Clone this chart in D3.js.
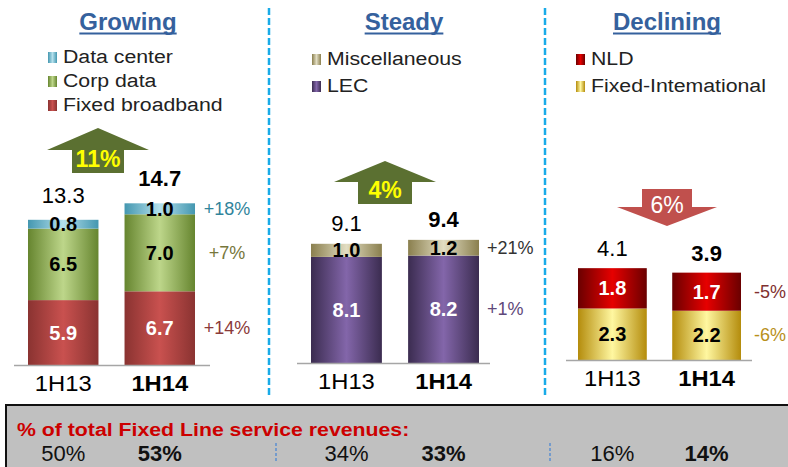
<!DOCTYPE html>
<html>
<head>
<meta charset="utf-8">
<script src="https://cdn.jsdelivr.net/npm/d3@7"></script>
<style>
  body { margin: 0; background: #fff; }
  svg { display: block; font-family: "Liberation Sans", Arial, sans-serif; }
</style>
</head>
<body>
<svg id="chart" width="788" height="467"></svg>
<script>
// Data
const periods = ["1H13", "1H14"];

const growingSeries = ["Fixed broadband", "Corp data", "Data center"];
const growingValues = [[5.9, 6.7], [6.5, 7.0], [0.8, 1.0]];
const growingTotals = [13.3, 14.7];
const growingChange = ["+14%", "+7%", "+18%"];

const steadySeries = ["LEC", "Miscellaneous"];
const steadyValues = [[8.1, 8.2], [1.0, 1.2]];
const steadyTotals = [9.1, 9.4];
const steadyChange = ["+1%", "+21%"];

const decliningSeries = ["Fixed-Intemational", "NLD"];
const decliningValues = [[2.3, 2.2], [1.8, 1.7]];
const decliningTotals = [4.1, 3.9];
const decliningChange = ["-6%", "-5%"];

const groupTitles = ["Growing", "Steady", "Declining"];
const groupChange = ["11%", "4%", "6%"];
const shareOfTotal = [["50%", "53%"], ["34%", "33%"], ["16%", "14%"]];

// Styles per series: [edge colour, middle colour, label colour, change colour]
const seriesStyle = {
  "Fixed broadband":    ["#8a3331", "#c9514f", "#fff", "#8b3a3a"],
  "Corp data":          ["#66852f", "#bdd68a", "#000", "#77773c"],
  "Data center":        ["#4497b0", "#b4e0ec", "#000", "#31849b"],
  "LEC":                ["#3b2c50", "#8366aa", "#fff", "#5f497a"],
  "Miscellaneous":      ["#8a7f4e", "#e2ddc2", "#000", "#333"],
  "Fixed-Intemational": ["#b48c0c", "#fff7a0", "#000", "#b8901a"],
  "NLD":                ["#6a0000", "#e60000", "#fff", "#7f3030"]
};

// Layout per panel
const panels = [
  {series: growingSeries, values: growingValues, totals: growingTotals, change: growingChange,
   titleX: 128, barRange: [28, 195], axis: [14, 210], base: 365, ppu: 11.0,
   legendX: 48, legendY: [63, 87, 111], changeX: 227, changeAnchor: "middle", totalGap: 17,
   arrow: {cx: 98, a: 128, b: 150, c: 173, head: 51, body: 26, textY: 167, fill: "#5b7031", text: "#ffff00", bold: true}},
  {series: steadySeries, values: steadyValues, totals: steadyTotals, change: steadyChange,
   titleX: 404, barRange: [311, 479], axis: [297, 490], base: 363, ppu: 13.1,
   legendX: 312, legendY: [65, 92], changeX: 487, changeAnchor: "start", totalGap: 13,
   arrow: {cx: 385, a: 161, b: 182, c: 204, head: 51, body: 27, textY: 198, fill: "#5b7031", text: "#ffff00", bold: true}},
  {series: decliningSeries, values: decliningValues, totals: decliningTotals, change: decliningChange,
   titleX: 667, barRange: [578, 741], axis: [566, 752], base: 360, ppu: 22.4,
   legendX: 576, legendY: [65, 92], changeX: 754, changeAnchor: "start", totalGap: 12,
   arrow: {cx: 667, a: 226, b: 207, c: 189, head: 50, body: 25, textY: 213, fill: "#c0504d", text: "#fff", bold: false}}
];

const svg = d3.select("#chart");
const defs = svg.append("defs");

// Cylinder-like gradients
Object.entries(seriesStyle).forEach(([name, s], i) => {
  const g = defs.append("linearGradient")
    .attr("id", "grad" + i)
    .attr("x1", "0%").attr("x2", "100%").attr("y1", "0%").attr("y2", "0%");
  g.append("stop").attr("offset", "0%").attr("stop-color", s[0]);
  g.append("stop").attr("offset", "50%").attr("stop-color", s[1]);
  g.append("stop").attr("offset", "100%").attr("stop-color", s[0]);
  s.grad = "url(#grad" + i + ")";
});

// Dashed separators
[269, 545].forEach(x => {
  svg.append("line")
    .attr("x1", x).attr("x2", x).attr("y1", 8).attr("y2", 398)
    .attr("stroke", "#19abe8").attr("stroke-width", 2.5)
    .attr("stroke-dasharray", "7,3");
});

panels.forEach((p, pi) => {
  const g = svg.append("g");

  // Title
  const title = g.append("text")
    .attr("x", p.titleX).attr("y", 30)
    .attr("text-anchor", "middle")
    .attr("font-size", 24).attr("font-weight", "bold")
    .attr("fill", "#35619d")
    .text(groupTitles[pi]);
  const tw = title.node().getComputedTextLength();
  g.append("line")
    .attr("x1", p.titleX - tw / 2).attr("x2", p.titleX + tw / 2)
    .attr("y1", 33.5).attr("y2", 33.5)
    .attr("stroke", "#35619d").attr("stroke-width", 1.8);

  // Legend (top series first)
  const legendOrder = p.series.slice().reverse();
  legendOrder.forEach((name, i) => {
    const y = p.legendY[i];
    g.append("rect")
      .attr("x", p.legendX).attr("y", y - 11)
      .attr("width", 9).attr("height", 11)
      .attr("fill", seriesStyle[name].grad);
    g.append("text")
      .attr("transform", `translate(${p.legendX + 15},${y}) scale(1.12,1)`)
      .attr("font-size", 19).attr("fill", "#222")
      .text(name);
  });

  // Scales
  const x = d3.scaleBand()
    .domain(periods)
    .range(p.barRange)
    .paddingInner(0.27)
    .paddingOuter(0);
  const maxTotal = d3.max(periods, (d, j) => d3.sum(p.values, v => v[j]));
  const y = d3.scaleLinear()
    .domain([0, maxTotal])
    .range([p.base, p.base - maxTotal * p.ppu]);

  // Stack
  const rows = periods.map((per, j) => {
    const r = {period: per};
    p.series.forEach((s, k) => r[s] = p.values[k][j]);
    return r;
  });
  const stacked = d3.stack().keys(p.series)(rows);

  stacked.forEach((layer, k) => {
    const name = p.series[k];
    const st = seriesStyle[name];
    g.selectAll(null)
      .data(layer)
      .join("rect")
      .attr("x", d => x(d.data.period))
      .attr("y", d => y(d[1]))
      .attr("width", x.bandwidth())
      .attr("height", d => y(d[0]) - y(d[1]))
      .attr("fill", st.grad);
    g.selectAll(null)
      .data(layer)
      .join("text")
      .attr("x", d => x(d.data.period) + x.bandwidth() / 2)
      .attr("y", d => (y(d[0]) + y(d[1])) / 2 + 7)
      .attr("text-anchor", "middle")
      .attr("font-size", 20).attr("font-weight", "bold")
      .attr("fill", st[2])
      .text(d => d.data[name].toFixed(1));

    // Change label aligned with the latest period segment
    const last = layer[layer.length - 1];
    g.append("text")
      .attr("x", p.changeX)
      .attr("y", (y(last[0]) + y(last[1])) / 2 + 6)
      .attr("text-anchor", p.changeAnchor)
      .attr("font-size", 18)
      .attr("fill", st[3])
      .text(p.change[k]);
  });

  // Totals
  const top = stacked[stacked.length - 1];
  g.selectAll(null)
    .data(top)
    .join("text")
    .attr("x", d => x(d.data.period) + x.bandwidth() / 2)
    .attr("y", d => y(d[1]) - p.totalGap)
    .attr("text-anchor", "middle")
    .attr("font-size", 22)
    .attr("font-weight", (d, j) => j === 1 ? "bold" : "normal")
    .attr("fill", "#000")
    .text((d, j) => p.totals[j].toFixed(1));

  // Baseline
  g.append("line")
    .attr("x1", p.axis[0]).attr("x2", p.axis[1])
    .attr("y1", p.base + 0.5).attr("y2", p.base + 0.5)
    .attr("stroke", "#a6a6a6").attr("stroke-width", 1.5);

  // Category axis
  const ax = g.append("g")
    .attr("transform", `translate(0,${p.base})`)
    .call(d3.axisBottom(x).tickSize(0).tickPadding(10));
  ax.select(".domain").remove();
  ax.selectAll("text")
    .attr("font-size", 22)
    .attr("font-family", "Liberation Sans, Arial, sans-serif")
    .attr("fill", "#000")
    .attr("font-weight", (d, j) => j === 1 ? "bold" : "normal")
    .attr("transform", "scale(1.08,1)");

  // Arrow
  const a = p.arrow;
  const pts = [
    [a.cx, a.a],
    [a.cx + a.head, a.b],
    [a.cx + a.body, a.b],
    [a.cx + a.body, a.c],
    [a.cx - a.body, a.c],
    [a.cx - a.body, a.b],
    [a.cx - a.head, a.b]
  ];
  g.append("polygon")
    .attr("points", pts.map(d => d.join(",")).join(" "))
    .attr("fill", a.fill);
  g.append("text")
    .attr("x", a.cx).attr("y", a.textY)
    .attr("text-anchor", "middle")
    .attr("font-size", 23)
    .attr("font-weight", a.bold ? "bold" : "normal")
    .attr("fill", a.text)
    .text(groupChange[pi]);

  p.x = x;
});

// Bottom box
svg.append("rect")
  .attr("x", 6).attr("y", 405)
  .attr("width", 790).attr("height", 70)
  .attr("fill", "#c0c0c0")
  .attr("stroke", "#111").attr("stroke-width", 2);

svg.append("text")
  .attr("transform", "translate(17,436) scale(1.15,1)")
  .attr("font-size", 18.5).attr("font-weight", "bold")
  .attr("fill", "#cc0000")
  .text("% of total Fixed Line service revenues:");

[276, 550].forEach(xv => {
  svg.append("line")
    .attr("x1", xv).attr("x2", xv).attr("y1", 443).attr("y2", 462)
    .attr("stroke", "#5b8fd0").attr("stroke-width", 1.5)
    .attr("stroke-dasharray", "3,2");
});

panels.forEach((p, pi) => {
  svg.selectAll(null)
    .data(periods)
    .join("text")
    .attr("x", d => p.x(d) + p.x.bandwidth() / 2)
    .attr("y", 461)
    .attr("text-anchor", "middle")
    .attr("font-size", 22)
    .attr("font-weight", (d, j) => j === 1 ? "bold" : "normal")
    .attr("fill", "#111")
    .text((d, j) => shareOfTotal[pi][j]);
});
</script>
</body>
</html>
